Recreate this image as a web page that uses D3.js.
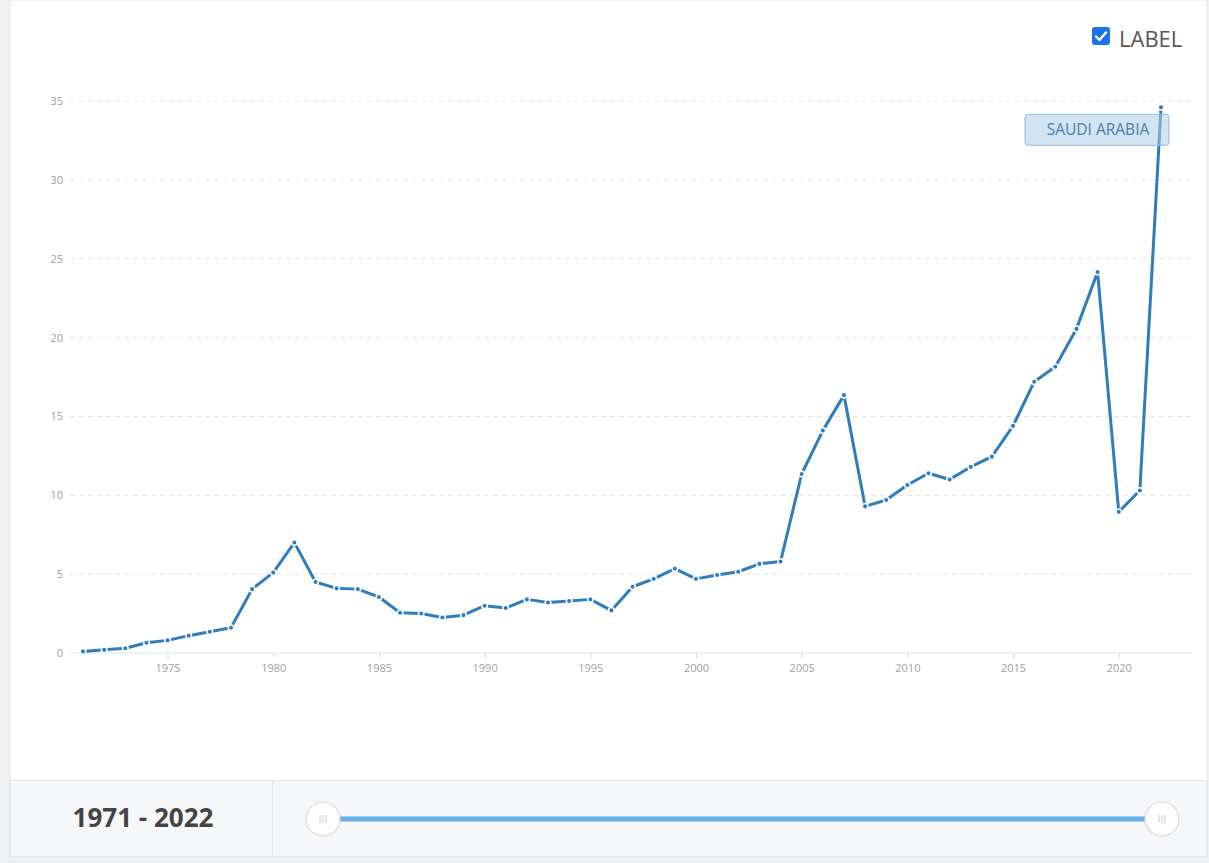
<!DOCTYPE html>
<html>
<head>
<meta charset="utf-8">
<script src="https://cdn.jsdelivr.net/npm/d3@7"></script>
<style>
  body { margin: 0; background: #eef0f3; font-family: "Open Sans", sans-serif; }
  svg { display: block; }
</style>
</head>
<body>
<div id="chart-area"></div>
<script>
var years = d3.range(1971, 2023);
var values = [
  0.1, 0.2, 0.3, 0.65, 0.8, 1.1, 1.35, 1.6, 4.05, 5.1,
  7.0, 4.5, 4.1, 4.05, 3.55, 2.55, 2.5, 2.25, 2.4, 3.0,
  2.85, 3.4, 3.2, 3.3, 3.4, 2.7, 4.2, 4.7, 5.35, 4.7,
  4.95, 5.15, 5.65, 5.8, 11.35, 14.1, 16.35, 9.3, 9.7, 10.65,
  11.4, 11.0, 11.8, 12.45, 14.4, 17.2, 18.15, 20.55, 24.15, 8.95,
  10.3, 34.6
];
var yTicks = [0, 5, 10, 15, 20, 25, 30, 35];
var xTicks = [1975, 1980, 1985, 1990, 1995, 2000, 2005, 2010, 2015, 2020];
var seriesName = "SAUDI ARABIA";

var data = years.map((y, i) => ({ year: y, value: values[i] }));

var W = 1209, H = 863;
var svg = d3.select("#chart-area")
  .append("svg")
  .attr("width", W)
  .attr("height", H);

// panel background
svg.append("rect")
  .attr("x", 10).attr("y", 0)
  .attr("width", 1197).attr("height", 857)
  .attr("fill", "white")
  .attr("stroke", "#e3e6ea");

var plotLeft = 70, plotRight = 1192;

var x = d3.scaleLinear()
  .domain([1971, 2022])
  .range([83, 1161]);

var y = d3.scaleLinear()
  .domain([0, 35])
  .range([653, 101]);

var g = svg.append("g");

// gridlines
g.selectAll(".grid")
  .data(yTicks.filter(d => d > 0))
  .enter()
  .append("line")
  .attr("class", "grid")
  .attr("x1", plotLeft)
  .attr("x2", plotRight)
  .attr("y1", d => y(d))
  .attr("y2", d => y(d))
  .attr("stroke", "#e2e2e2")
  .attr("stroke-dasharray", "5,4");

// y axis labels
var yAxisCall = d3.axisLeft(y)
  .tickValues(yTicks)
  .tickSize(0)
  .tickPadding(0);
var yAxis = g.append("g")
  .attr("transform", "translate(63,0)")
  .call(yAxisCall);
yAxis.select(".domain").remove();
yAxis.selectAll("text")
  .attr("fill", "#a0a0a0")
  .attr("font-size", "11px")
  .attr("font-family", "Open Sans");

// x axis
var xAxisCall = d3.axisBottom(x)
  .tickValues(xTicks)
  .tickSize(5)
  .tickPadding(6)
  .tickFormat(d3.format("d"));
var xAxis = g.append("g")
  .attr("transform", "translate(0," + y(0) + ")")
  .call(xAxisCall);
xAxis.select(".domain").remove();
xAxis.append("line")
  .attr("x1", plotLeft).attr("x2", plotRight)
  .attr("y1", 0).attr("y2", 0)
  .attr("stroke", "#dde1e6")
  .attr("stroke-width", 1);
xAxis.selectAll(".tick line").attr("stroke", "#d6d6d6");
xAxis.selectAll("text")
  .attr("fill", "#a0a0a0")
  .attr("font-size", "11px")
  .attr("font-family", "Open Sans");

// line
var line = d3.line()
  .x(d => x(d.year))
  .y(d => y(d.value));

g.append("path")
  .datum(data)
  .attr("fill", "none")
  .attr("stroke", "#2f7dbd")
  .attr("stroke-width", 3)
  .attr("stroke-linejoin", "round")
  .attr("d", line);

g.selectAll(".pt")
  .data(data)
  .enter()
  .append("circle")
  .attr("class", "pt")
  .attr("cx", d => x(d.year))
  .attr("cy", d => y(d.value))
  .attr("r", 2.8)
  .attr("fill", "#2f7dbd")
  .attr("stroke", "white")
  .attr("stroke-width", 1.5);

// series label box
var last = data[data.length - 1];
var lbl = g.append("g")
  .attr("transform", "translate(" + (x(last.year) + 8) + "," + (y(last.value) + 7) + ")");
lbl.append("rect")
  .attr("x", -144).attr("y", 0)
  .attr("width", 144).attr("height", 31)
  .attr("rx", 3)
  .attr("fill", "rgba(170,205,232,0.55)")
  .attr("stroke", "#8fbde0");
lbl.append("text")
  .attr("x", -71).attr("y", 21)
  .attr("text-anchor", "middle")
  .attr("font-size", "15.5px")
  .attr("fill", "#4b7fae")
  .text(seriesName);

// LABEL checkbox
var cb = svg.append("g").attr("transform", "translate(1092,27)");
cb.append("rect")
  .attr("width", 18).attr("height", 18)
  .attr("rx", 3)
  .attr("fill", "#1a73e8");
cb.append("path")
  .attr("d", "M4,9.5 L7.5,13 L14,5.5")
  .attr("fill", "none")
  .attr("stroke", "white")
  .attr("stroke-width", 2.4)
  .attr("stroke-linecap", "round")
  .attr("stroke-linejoin", "round");
svg.append("text")
  .attr("x", 1119).attr("y", 47)
  .attr("font-size", "22px")
  .attr("fill", "#555")
  .text("LABEL");

// bottom range bar
var bar = svg.append("g");
bar.append("rect")
  .attr("x", 10.5).attr("y", 780.5)
  .attr("width", 1196).attr("height", 76)
  .attr("fill", "#f6f7f9")
  .attr("stroke", "#e3e6ea");
bar.append("line")
  .attr("x1", 272.5).attr("x2", 272.5)
  .attr("y1", 781).attr("y2", 856)
  .attr("stroke", "#e3e6ea");
bar.append("text")
  .attr("x", 143).attr("y", 827)
  .attr("text-anchor", "middle")
  .attr("font-size", "26px")
  .attr("font-weight", "bold")
  .attr("fill", "#444")
  .text(years[0] + " - " + years[years.length - 1]);

var sx = d3.scaleLinear().domain([1971, 2022]).range([323, 1162]);
bar.append("line")
  .attr("x1", sx(years[0])).attr("x2", sx(years[years.length - 1]))
  .attr("y1", 819).attr("y2", 819)
  .attr("stroke", "#64b3ee")
  .attr("stroke-width", 5);

[years[0], years[years.length - 1]].forEach(function (yr) {
  var h = bar.append("g").attr("transform", "translate(" + sx(yr) + ",819)");
  h.append("circle")
    .attr("r", 17)
    .attr("fill", "white")
    .attr("stroke", "#d8dbe0")
    .attr("stroke-width", 1.2);
  [-3, 0, 3].forEach(function (dx) {
    h.append("line")
      .attr("x1", dx).attr("x2", dx)
      .attr("y1", -4).attr("y2", 4)
      .attr("stroke", "#c4c8cd")
      .attr("stroke-width", 1);
  });
});
</script>
</body>
</html>
